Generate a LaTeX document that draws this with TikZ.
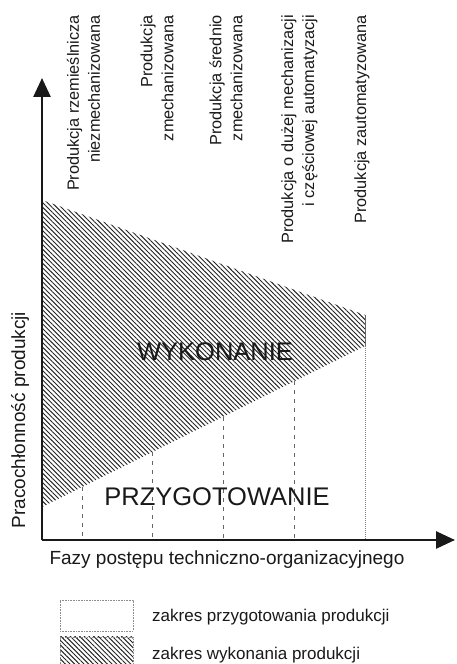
\documentclass[tikz,border=0pt]{standalone}
\usepackage{fontspec}
\setmainfont{Liberation Sans}
\usetikzlibrary{arrows.meta,patterns.meta,calc}

\tikzset{
  axis/.style={line width=2.6pt, draw=black!90,
    -{Triangle[length=19pt,width=17pt]}},
  hatchfill/.style={pattern={Lines[angle=-45,distance=3.3pt,line width=0.95pt]},
    pattern color=black!85},
  phaseline/.style={draw=black!60, line width=0.8pt, dash pattern=on 4pt off 5pt},
  lastline/.style={draw=black!50, line width=0.9pt, dash pattern=on 1pt off 1pt},
  phaselabel/.style={rotate=90, anchor=east, align=right, inner sep=0pt,
    font=\fontsize{16.3}{21}\selectfont, text=black!90},
  bigword/.style={font=\fontsize{25.5}{30}\selectfont, text=black!90, inner sep=0pt},
  axislabel/.style={font=\fontsize{19}{23}\selectfont, text=black!90, inner sep=0pt},
  legendtext/.style={font=\fontsize{17}{20}\selectfont, text=black!90, anchor=west, inner sep=0pt},
  legendbox/.style={draw=black!45, line width=0.8pt, dash pattern=on 1pt off 0.6pt}
}

\begin{document}
\begin{tikzpicture}[x=1pt,y=1pt]
  \useasboundingbox (0,0) rectangle (456,664);

  % axes corner and tips
  \coordinate (O) at (42,124);
  \coordinate (ytip) at (42,586);
  \coordinate (xtip) at (455,124);

  % corners of the execution area
  \coordinate (A) at (42,464);
  \coordinate (B) at (365,349);
  \coordinate (C) at (365,318);
  \coordinate (D) at (42,157);

  % execution area (hatched)
  \fill[hatchfill] (A) -- (B) -- (C) -- (D) -- cycle;
  \draw[black!60, line width=0.9pt] (B) -- (C);

  % phase boundaries on the lower edge
  \coordinate (p1) at ($(D)!{40/323}!(C)$);
  \coordinate (p2) at ($(D)!{110/323}!(C)$);
  \coordinate (p3) at ($(D)!{181/323}!(C)$);
  \coordinate (p4) at ($(D)!{252/323}!(C)$);
  \draw[phaseline] (p1) -- (p1 |- O);
  \draw[phaseline] (p2) -- (p2 |- O);
  \draw[phaseline] (p3) -- (p3 |- O);
  \draw[phaseline] (p4) -- (p4 |- O);
  \draw[lastline] (C) -- (C |- O);

  % axes
  \draw[axis] (O) -- (ytip);
  \draw[axis] (O) -- (xtip);

  % phase names
  \node[phaselabel] (l1) at (83.5,649) {Produkcja rzemieślnicza\\niezmechanizowana};
  \node[phaselabel] (l2) at (157,649) {Produkcja\\zmechanizowana};
  \node[phaselabel] (l3) at (226,649) {Produkcja średnio\\zmechanizowana};
  \node[phaselabel] (l4) at (299.5,649) {Produkcja o dużej mechanizacji\\i częściowej automatyzacji};
  \node[phaselabel] (l5) at (362,649) {Produkcja zautomatyzowana};

  % area names
  \node[bigword] (wyk) at (215,312) {WYKONANIE};
  \node[bigword] (prz) at (217,167) {PRZYGOTOWANIE};

  % axis titles
  \node[axislabel, rotate=90] (ylab) at (20,244) {Pracochłonność produkcji};
  \node[axislabel] (xlab) at (227,104) {Fazy postępu techniczno-organizacyjnego};

  % legend
  \node[legendbox, minimum width=73pt, minimum height=31pt, inner sep=0pt] (key1) at (96.5,48.5) {};
  \fill[hatchfill] (60,0) rectangle (133,27);
  \draw[legendbox] (60,-2) -- (60,27) -- (133,27) -- (133,-2);
  \node[legendtext] (t1) at (152,47) {zakres przygotowania produkcji};
  \node[legendtext] (t2) at (152,9) {zakres wykonania produkcji};
\end{tikzpicture}
\end{document}
